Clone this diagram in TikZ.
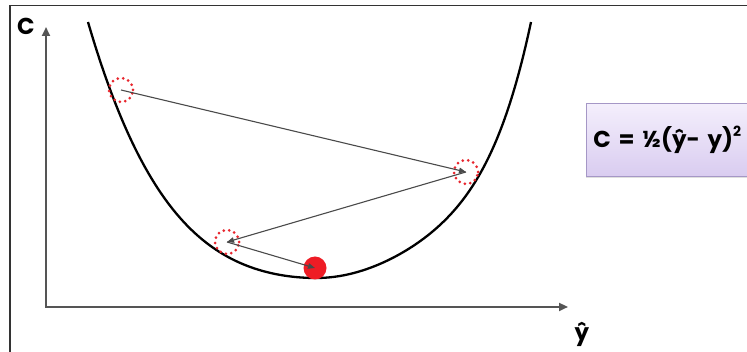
\documentclass[tikz,border=0pt]{standalone}
\usepackage{fontspec}
\newfontfamily\lblfont{Poppins}
\usetikzlibrary{arrows.meta,shadows}
\definecolor{axisgray}{HTML}{555555}
\definecolor{stepgray}{HTML}{4A4A4A}
\definecolor{dotred}{HTML}{E8262E}
\definecolor{ballred}{HTML}{EE1C25}
\definecolor{boxtop}{HTML}{F4EFFC}
\definecolor{boxbottom}{HTML}{D9CCF0}
\definecolor{boxborder}{HTML}{A597C6}
\definecolor{framegray}{HTML}{333333}
\begin{document}
\begin{tikzpicture}[x=1pt,y=-1pt,
  axisline/.style={draw=axisgray,line width=2.6pt,line join=miter,
    {Triangle[length=9pt,width=8pt]}-{Triangle[length=9pt,width=8pt]}},
  curveline/.style={draw=black,line width=2.3pt},
  dotcirc/.style={circle,draw=dotred,line width=3pt,line cap=round,
    dash pattern=on 0pt off 5.5pt,minimum size=24pt,inner sep=0pt},
  ball/.style={circle,fill=ballred,minimum size=23pt,inner sep=0pt},
  steparrow/.style={draw=stepgray,line width=1.1pt,-{Triangle[length=7pt,width=5.5pt]}},
  axlabel/.style={font=\lblfont\bfseries\fontsize{23}{27}\selectfont,text=black,inner sep=0pt},
  formulabox/.style={draw=boxborder,line width=0.8pt,top color=boxtop,bottom color=boxbottom,
    text width=166pt,align=left,inner sep=7pt,minimum height=73pt,
    font=\lblfont\bfseries\fontsize{23}{27}\selectfont,
    drop shadow={opacity=0.25,shadow xshift=0pt,shadow yshift=-2pt}}
]
\useasboundingbox (0,0) rectangle (747,352);
\fill[white] (0,0) rectangle (747,352);
\begin{scope}
\clip (0,0) rectangle (747,352);
% frame
\draw[framegray,line width=1.5pt] (10,353) -- (10,5.5) -- (748,5.5);
% axes
\coordinate (origin) at (46,307);
\coordinate (ytip) at (46,27);
\coordinate (xtip) at (568,307);
\draw[axisline] (ytip) -- (origin) -- (xtip);
\node[axlabel] (clabel) at (26,26) {C};
\node[axlabel] (yhatlabel) at (582,334) {ŷ};
% cost curve (u = horizontal distance from the minimum / 100)
\draw[curveline]
  plot[domain=-2.28:0,samples=120,smooth]
    ({316+100*\x},{278-(23.3*\x*\x+4.99*(\x*\x)*(\x*\x))})
  -- plot[domain=0:2.15,samples=120,smooth]
    ({316+100*\x},{278-(35.39*\x*\x-3.03*(\x*\x)*(\x*\x)+1.591*(\x*\x)*(\x*\x)*(\x*\x))});
% points
\node[dotcirc] (p1) at (121,90) {};
\node[dotcirc] (p2) at (466,172) {};
\node[dotcirc] (p3) at (227,242) {};
\node[ball] (p4) at (315,268) {};
\draw[steparrow] (p1.center) -- (p2.center);
\draw[steparrow] (p2.center) -- (p3.center);
\draw[steparrow] (p3.center) -- (p4.center);
% formula
\node[formulabox,anchor=north west] (formula) at (586,103)
  {C = ½(ŷ- y)\raisebox{0.5em}{\fontsize{14}{14}\selectfont 2}};
\end{scope}
\end{tikzpicture}
\end{document}
